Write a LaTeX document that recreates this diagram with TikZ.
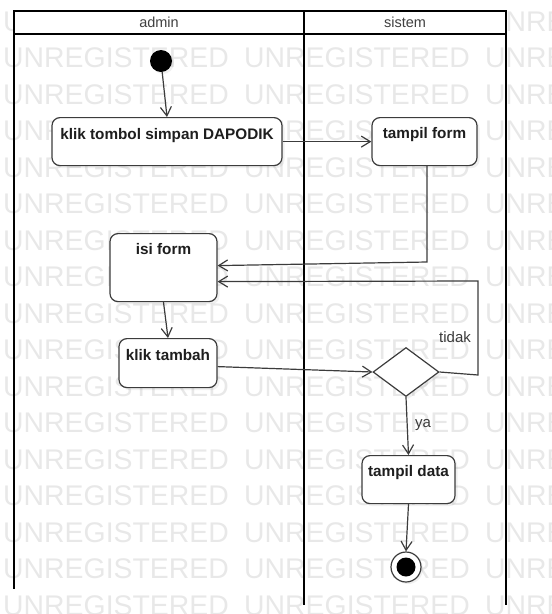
\documentclass[tikz,border=0pt]{standalone}
\usepackage{fontspec}
\setmainfont{Liberation Sans}
\usetikzlibrary{arrows.meta,shapes.geometric,shadows}

\definecolor{wmgray}{HTML}{E8E8E8}
\definecolor{linegray}{HTML}{3C3C3C}
\definecolor{textdark}{HTML}{1E1E1E}
\definecolor{labelgray}{HTML}{3A3A3A}

\begin{document}
\begin{tikzpicture}[x=1pt,y=-1pt,
  wmark/.style={inner sep=0pt, anchor=west, text=wmgray, font=\fontsize{28.4}{30}\selectfont},
  lanehead/.style={draw=black, line width=2pt, fill=white, inner sep=0pt,
    text=textdark!85, font=\fontsize{14.5}{16}\selectfont},
  lane/.style={draw=black, line width=2pt},
  act/.style={draw=linegray, line width=1.2pt, fill=white, rounded corners=8pt,
    inner xsep=2pt, inner ysep=0pt, anchor=north, text=textdark,
    font=\bfseries\fontsize{15.3}{17}\selectfont,
    drop shadow={shadow xshift=2.5pt, shadow yshift=-2.5pt, opacity=0.12}},
  decision/.style={diamond, draw=linegray, line width=1.2pt, fill=white,
    minimum width=66pt, minimum height=49pt, inner sep=0pt,
    drop shadow={shadow xshift=2.5pt, shadow yshift=-2.5pt, opacity=0.12}},
  initial/.style={circle, fill=black, minimum size=22pt, inner sep=0pt,
    drop shadow={shadow xshift=2pt, shadow yshift=-2pt, opacity=0.12}},
  final/.style={circle, draw=linegray, line width=1.2pt, fill=white,
    minimum size=30pt, inner sep=0pt,
    path picture={\fill[black] (path picture bounding box.center) circle (9.5pt);},
    drop shadow={shadow xshift=2pt, shadow yshift=-2pt, opacity=0.12}},
  conn/.style={draw=linegray, line width=1.2pt,
    -{Straight Barb[length=9pt, width=11pt, line width=1.2pt]}},
  guard/.style={inner sep=0pt, text=labelgray, font=\fontsize{15}{17}\selectfont}
]
\useasboundingbox (0,0) rectangle (552,614);

% tiled background text
\begin{scope}
  \clip (0,0) rectangle (552,614);
  \foreach \r in {0,...,16} {
    \foreach \c in {0,1,2} {
      \node[wmark] (wm-\r-\c) at (3+241*\c, 21.5+36.5*\r) {UNREGISTERED};
    }
  }
\end{scope}

% swimlanes
\draw[lane] (14,11) -- (14,589);
\draw[lane] (304,11) -- (304,605);
\draw[lane] (506,11) -- (506,605);
\node[lanehead, minimum width=290pt, minimum height=23pt] (hadmin) at (159,22.5) {admin};
\node[lanehead, minimum width=202pt, minimum height=23pt] (hsistem) at (405,22.5) {sistem};

% activity nodes
\node[initial] (start) at (161,61) {};
\node[act, minimum width=230pt, text height=21.5pt, text depth=26.5pt] (k1) at (167,117) {klik tombol simpan DAPODIK};
\node[act, minimum width=105pt, text height=20.5pt, text depth=27.5pt] (tf) at (424.5,117) {tampil form};
\node[act, minimum width=107pt, text height=20.5pt, text depth=47.5pt] (isi) at (163.5,233) {isi form};
\node[act, minimum width=98pt, text height=22pt, text depth=27pt] (kt) at (168,338) {klik tambah};
\node[decision] (dec) at (406,372) {};
\node[act, minimum width=93pt, text height=20.5pt, text depth=27.5pt] (td) at (408.5,455) {tampil data};
\node[final] (end) at (406,567) {};

% bend points
\coordinate (b1) at (427,262);
\coordinate (b2) at (478,375);
\coordinate (b3) at (478,281);

% flows
\draw[conn] (start) -- (k1.north);
\draw[conn] (k1.east) -- (tf.west);
\draw[conn] (tf.south -| b1) -- (b1) -- ([yshift=2pt]isi.east);
\draw[conn] (isi.south) -- (kt.north);
\draw[conn] ([yshift=-3.5pt]kt.east) -- (dec.west);
\draw[conn] (dec.east) -- (b2) -- (b3) -- ([yshift=-14pt]isi.east);
\draw[conn] (dec.south) -- (td.north);
\draw[conn] (td.south) -- (end.north);

% guards
\node[guard] (tidak) at (455,337) {tidak};
\node[guard] (ya) at (423,425) {ya};
\end{tikzpicture}
\end{document}
